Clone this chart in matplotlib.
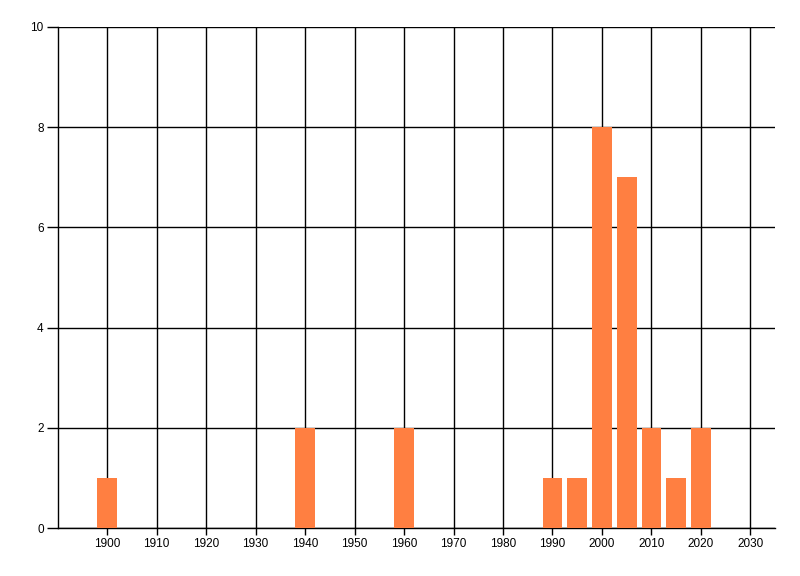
import matplotlib
matplotlib.use("Agg")
import matplotlib.pyplot as plt

# values
years = [1900, 1940, 1960, 1990, 1995, 2000, 2005, 2010, 2015, 2020]
counts = [1, 2, 2, 1, 1, 8, 7, 2, 1, 2]
x_ticks = list(range(1900, 2031, 10))
y_ticks = [0, 2, 4, 6, 8, 10]

plt.rcParams["font.family"] = ["Liberation Sans", "DejaVu Sans"]

fig = plt.figure(figsize=(8, 5.76), dpi=100)
ax = fig.add_axes([0.072, 0.0833, 0.897, 0.87])

ax.bar(years, counts, width=4, color="#FF7F41", zorder=3)

ax.set_xlim(1890, 2035)
ax.set_ylim(0, 10)
ax.set_xticks(x_ticks)
ax.set_yticks(y_ticks)
ax.tick_params(axis="x", length=5, width=1, colors="black", labelsize=8.5, pad=2)
ax.tick_params(axis="y", length=8, width=1, colors="black", labelsize=8.5, pad=2)

ax.grid(True, color="black", linewidth=1.0, zorder=0)
ax.set_axisbelow(True)

for side in ["top", "right"]:
    ax.spines[side].set_visible(False)
for side in ["left", "bottom"]:
    ax.spines[side].set_color("black")
    ax.spines[side].set_linewidth(1.0)

fig.savefig("out.png", dpi=100)
